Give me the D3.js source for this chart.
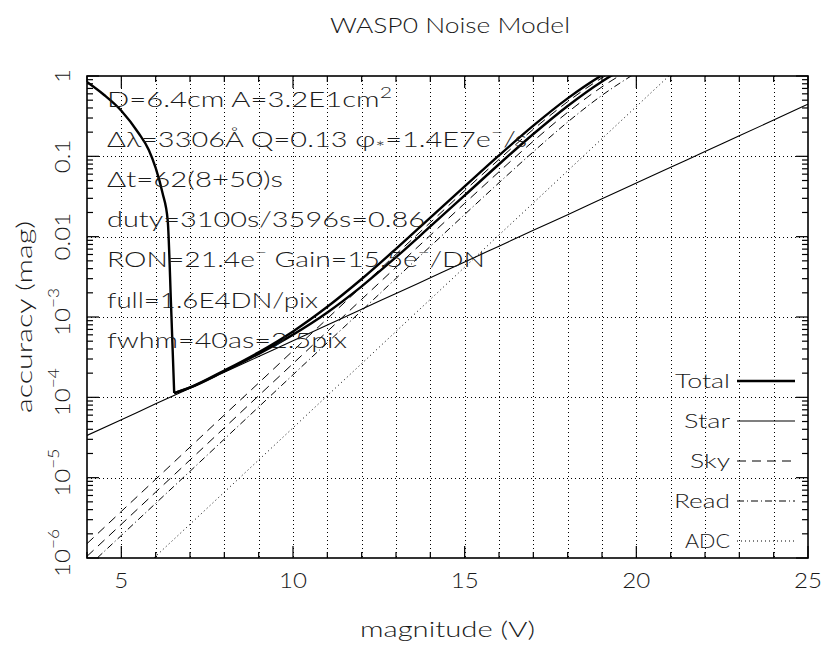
<!DOCTYPE html>
<html>
<head>
<meta charset="utf-8">
<script src="https://cdn.jsdelivr.net/npm/d3@7"></script>
<style>
  body { margin: 0; background: #fff; }
  text { font-family: Lato, "DejaVu Sans", sans-serif; font-weight: 300; fill: #1a1a1a; }
</style>
</head>
<body>
<div id="chart"></div>
<script>
// values (accuracy in mag vs V magnitude)
var mags = [4, 5, 6, 7, 8, 9, 10, 11, 12, 13, 14, 15, 16, 17, 18, 19, 20, 21, 22, 23, 24, 25];
var star = [3.36e-5, 5.27e-5, 8.30e-5, 1.30e-4, 2.05e-4, 3.22e-4, 5.06e-4, 7.94e-4, 1.25e-3, 1.96e-3, 3.08e-3,
            4.84e-3, 7.62e-3, 0.0120, 0.0188, 0.0296, 0.0465, 0.0730, 0.115, 0.180, 0.283, 0.446];
var sky1 = [1.51e-6, 3.80e-6, 9.55e-6, 2.40e-5, 6.03e-5, 1.51e-4, 3.80e-4, 9.55e-4, 2.40e-3, 6.03e-3, 0.0150,
            0.0374, 0.0915, 0.217, 0.479, 0.948, 1.63, null, null, null, null, null];
var sky2 = [1.05e-6, 2.63e-6, 6.61e-6, 1.66e-5, 4.17e-5, 1.05e-4, 2.63e-4, 6.61e-4, 1.66e-3, 4.17e-3, 0.0104,
            0.0260, 0.0642, 0.1545, 0.353, 0.733, 1.336, null, null, null, null, null];
var readNoise = [7.6e-7, 1.91e-6, 4.79e-6, 1.20e-5, 3.02e-5, 7.59e-5, 1.91e-4, 4.79e-4, 1.20e-3, 3.02e-3, 7.57e-3,
            0.0189, 0.0469, 0.114, 0.267, 0.575, 1.10, null, null, null, null, null];
var adc = [1.66e-7, 4.17e-7, 1.05e-6, 2.63e-6, 6.61e-6, 1.66e-5, 4.17e-5, 1.05e-4, 2.63e-4, 6.61e-4, 1.66e-3,
            4.17e-3, 0.0105, 0.0263, 0.0661, 0.166, 0.417, 1.05, null, null, null, null];

// saturation branch of the total curve (bright end)
var brightMags  = [4, 4.5, 5, 5.5, 5.8, 6, 6.2, 6.35, 6.45, 6.54];
var brightTotal = [0.84, 0.58, 0.37, 0.195, 0.12, 0.0716, 0.0349, 0.0161, 1.33e-3, 1.13e-4];
// faint branch, two sky cases
var faintMags = [6.54, 7, 8, 9, 10, 11, 12, 13, 14, 15, 16, 17, 18, 19, 20];
var total1 = [1.13e-4, 1.33e-4, 2.16e-4, 3.64e-4, 6.62e-4, 1.34e-3, 2.97e-3, 7.06e-3, 0.0173, 0.0422, 0.1026, 0.241, 0.527, 1.024, 1.73];
var total2 = [1.13e-4, 1.32e-4, 2.11e-4, 3.48e-4, 6.03e-4, 1.14e-3, 2.41e-3, 5.55e-3, 0.0134, 0.0326, 0.0797, 0.1895, 0.424, 0.857, 1.51];

var legendNames = ["Total", "Star", "Sky", "Read", "ADC"];
var notes = ["D=6.4cm A=3.2E1cm^2", "Δλ=3306Å Q=0.13 φ_*=1.4E7e^−/s", "Δt=62(8+50)s",
             "duty=3100s/3596s=0.86", "RON=21.4e^−  Gain=15.5e^−/DN", "full=1.6E4DN/pix", "fwhm=40as=2.5pix"];
var xMajor = [5, 10, 15, 20, 25];
var yLabels = [[1, "1"], [0.1, "0.1"], [0.01, "0.01"], [1e-3, "10", "−3"], [1e-4, "10", "−4"], [1e-5, "10", "−5"], [1e-6, "10", "−6"]];

var W = 824, H = 648;
var svg = d3.select("#chart").append("svg").attr("width", W).attr("height", H);

var x = d3.scaleLinear().domain([4, 25]).range([87, 808]);
var y = d3.scaleLog().domain([1e-6, 1]).range([558, 76]);

// the plot lettering is wide (Hershey-like): stretch text horizontally
function stretch(sel, k) {
  sel.each(function() {
    var w = this.getComputedTextLength();
    d3.select(this).attr("textLength", w * k).attr("lengthAdjust", "spacingAndGlyphs");
  });
}
function fit(sel, w) { sel.attr("textLength", w).attr("lengthAdjust", "spacingAndGlyphs"); }

svg.append("clipPath").attr("id", "plot")
  .append("rect").attr("x", 87).attr("y", 76).attr("width", 721).attr("height", 482);

// dotted grid
var grid = svg.append("g").attr("stroke", "#000").attr("stroke-width", 1)
  .attr("stroke-dasharray", "1,3").attr("shape-rendering", "crispEdges");
grid.selectAll(".gx").data(d3.range(5, 25)).enter().append("line")
  .attr("x1", d => Math.round(x(d)) + 0.5).attr("x2", d => Math.round(x(d)) + 0.5).attr("y1", 76).attr("y2", 558);
grid.selectAll(".gy").data([1e-5, 1e-4, 1e-3, 1e-2, 1e-1]).enter().append("line")
  .attr("y1", d => Math.round(y(d)) + 0.5).attr("y2", d => Math.round(y(d)) + 0.5).attr("x1", 87).attr("x2", 808);

// ticks (inward, all four sides)
var ticks = svg.append("g").attr("stroke", "#000").attr("stroke-width", 1.2);
d3.range(4, 26).forEach(function(m) {
  var len = xMajor.indexOf(m) >= 0 ? 12 : 6;
  ticks.append("line").attr("x1", x(m)).attr("x2", x(m)).attr("y1", 558).attr("y2", 558 - len);
  ticks.append("line").attr("x1", x(m)).attr("x2", x(m)).attr("y1", 76).attr("y2", 76 + len);
});
y.ticks().forEach(function(v) {
  var major = Math.abs(Math.log10(v) - Math.round(Math.log10(v))) < 1e-6;
  var len = major ? 12 : 6;
  ticks.append("line").attr("y1", y(v)).attr("y2", y(v)).attr("x1", 87).attr("x2", 87 + len);
  ticks.append("line").attr("y1", y(v)).attr("y2", y(v)).attr("x1", 808).attr("x2", 808 - len);
});

svg.append("rect").attr("x", 87).attr("y", 76).attr("width", 721).attr("height", 482)
  .attr("fill", "none").attr("stroke", "#000").attr("stroke-width", 1.6);

// tick labels
svg.selectAll(".xl").data(xMajor).enter().append("text")
  .attr("x", d => x(d)).attr("y", 588).attr("text-anchor", "middle").attr("font-size", 21).text(d => d)
  .call(stretch, 1.15);
yLabels.forEach(function(l) {
  var t = svg.append("text").attr("transform", "translate(70," + (y(l[0]) - (l[2] ? 5 : 0)) + ") rotate(-90)")
    .attr("text-anchor", "middle").attr("font-size", 21);
  t.append("tspan").text(l[1]);
  if (l[2]) t.append("tspan").attr("dy", -11).attr("font-size", 15).text(l[2]);
  t.call(stretch, 1.15);
});

// titles
svg.append("text").attr("x", 450).attr("y", 33).attr("text-anchor", "middle").attr("font-size", 21)
  .text("WASP0 Noise Model").call(fit, 240);
svg.append("text").attr("x", 447.5).attr("y", 637).attr("text-anchor", "middle").attr("font-size", 21)
  .text("magnitude (V)").call(fit, 175);
svg.append("text").attr("transform", "translate(32,317) rotate(-90)").attr("text-anchor", "middle")
  .attr("font-size", 21).text("accuracy (mag)").call(fit, 192);

// curves
var line = d3.line().defined(d => d[1] != null).x(d => x(d[0])).y(d => y(d[1])).curve(d3.curveMonotoneX);
function pairs(ms, vs) { return ms.map((m, i) => [m, vs[i]]); }
var plot = svg.append("g").attr("clip-path", "url(#plot)").attr("fill", "none").attr("stroke", "#000");

var styles = {
  sky:  { w: 1, dash: "9,6" },
  read: { w: 1, dash: "7,3,1,3" },
  adc:  { w: 1, dash: "1,3" },
  star: { w: 1.1, dash: null },
  total:{ w: 2.4, dash: null }
};
function draw(data, st) {
  plot.append("path").attr("d", line(data)).attr("stroke-width", st.w).attr("stroke-dasharray", st.dash);
}
draw(pairs(mags, adc), styles.adc);
draw(pairs(mags, readNoise), styles.read);
draw(pairs(mags, sky2), styles.sky);
draw(pairs(mags, sky1), styles.sky);
draw(pairs(mags, star), styles.star);
draw(pairs(brightMags, brightTotal), styles.total);
draw(pairs(faintMags, total2), styles.total);
draw(pairs(faintMags, total1), styles.total);

// annotation block; ^x = superscript, _x = subscript
var noteWidths = [285, 420, 176, 318, 378, 211, 240];
notes.forEach(function(s, i) {
  var t = svg.append("text").attr("x", 107).attr("y", 107 + i * 40.1).attr("font-size", 22);
  var shift = 0;
  s.split(/(\^.|_.)/).forEach(function(p) {
    if (!p) return;
    var dy = -shift, fs = null, txt = p;
    if (p[0] === "^") { txt = p[1]; dy -= 9; shift = -9; fs = 16; }
    else if (p[0] === "_") { txt = p[1]; dy += 7; shift = 7; fs = 18; }
    else shift = 0;
    var ts = t.append("tspan").attr("dy", dy || null).text(txt);
    if (fs) ts.attr("font-size", fs);
  });
  t.call(fit, noteWidths[i]);
});

// legend
var legStyles = [styles.total, styles.star, styles.sky, styles.read, styles.adc];
var legWidths = [55, 46, 40, 56, 45];
legendNames.forEach(function(n, i) {
  var yy = 381 + i * 40;
  svg.append("text").attr("x", 730).attr("y", yy + 7).attr("text-anchor", "end").attr("font-size", 20)
    .text(n).call(fit, legWidths[i]);
  svg.append("line").attr("x1", 737).attr("x2", 795).attr("y1", yy).attr("y2", yy)
    .attr("stroke", "#000").attr("stroke-width", legStyles[i].w).attr("stroke-dasharray", legStyles[i].dash);
});
</script>
</body>
</html>
